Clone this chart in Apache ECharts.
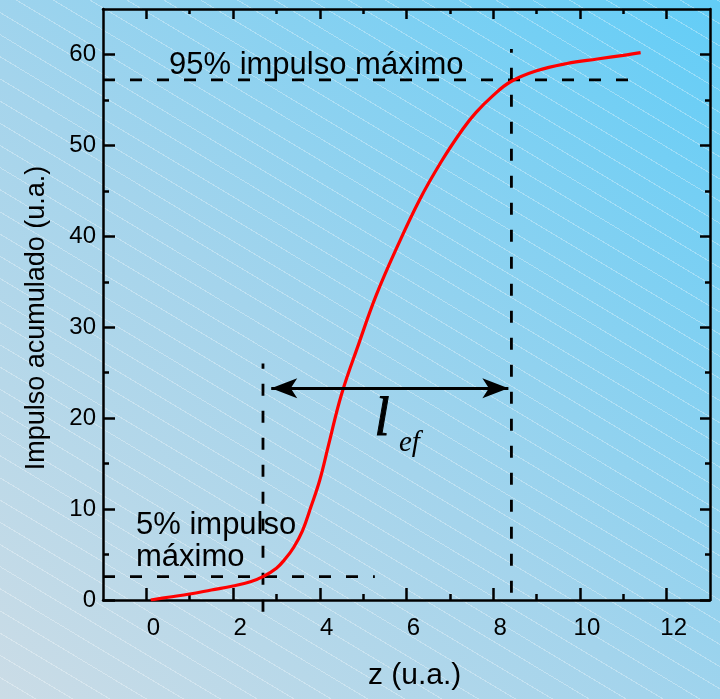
<!DOCTYPE html>
<html>
<head>
<meta charset="utf-8">
<script src="https://cdn.jsdelivr.net/npm/echarts@6/dist/echarts.min.js"></script>
<style>
  html, body { margin: 0; padding: 0; }
  #main {
    width: 720px; height: 699px;
    background:
      repeating-linear-gradient(31deg, rgba(255,255,255,0) 0px, rgba(255,255,255,0) 18px, rgba(255,255,255,0.3) 18px, rgba(255,255,255,0.3) 19px),
      linear-gradient(to top right, #cbdce6 0%, #a4d4ec 45%, #62cdf7 100%);
  }
</style>
</head>
<body>
<div id="main"></div>
<script>
// curva de impulso acumulado
const zCurve = [0.1, 0.5, 1.0, 1.5, 2.0, 2.4, 2.7, 3.0, 3.2, 3.4, 3.6, 3.8, 4.0, 4.2, 4.5, 4.9, 5.3, 5.8, 6.3, 6.8, 7.3, 7.6, 8.0, 8.4, 9.0, 9.7, 10.4, 11.0, 11.4];
const impulso = [0, 0.3, 0.66, 1.1, 1.54, 2.0, 2.6, 3.5, 4.5, 5.8, 7.6, 10.3, 13.2, 17.0, 22.6, 28.2, 33.5, 39.0, 44.0, 48.2, 51.8, 53.6, 55.5, 57.0, 58.2, 59.0, 59.5, 59.9, 60.2];

// lineas de referencia (95% y 5%)
const nivel95 = 57.2, z95 = 8.42;
const nivel5 = 2.56, z5 = 2.69;
const h95Extent = [-1, 11.2];
const v95Extent = [0.8, 60.6];
const h5Extent = [-1, 5.27];
const v5Extent = [-1.3, 26.0];

// flecha l_ef
const flechaZ = [2.88, 8.35];
const flechaV = 23.3;

// ticks
const xMajor = [0, 2, 4, 6, 8, 10, 12];
const xMinor = [1, 3, 5, 7, 9, 11];
const yMajor = [0, 10, 20, 30, 40, 50, 60];
const yMinor = [5, 15, 25, 35, 45, 55];

const chart = echarts.init(document.getElementById('main'), null, { renderer: 'canvas' });

const black = '#000';
const font = '"Liberation Sans", Arial, sans-serif';
const serif = '"Liberation Serif", "Times New Roman", serif';

const hiddenLine = { show: false, onZero: false };
const axisLine = { show: true, onZero: false, lineStyle: { color: black, width: 2.5 } };

function xAx(pos, ticks, len, opt) {
  return Object.assign({
    type: 'value', min: -1, max: 13, position: pos,
    axisLine: hiddenLine,
    axisTick: { show: true, inside: true, length: len, customValues: ticks, lineStyle: { color: black, width: 2.5 } },
    axisLabel: { show: false },
    splitLine: { show: false }
  }, opt || {});
}
function yAx(pos, ticks, len, opt) {
  return Object.assign({
    type: 'value', min: 0, max: 65, position: pos,
    axisLine: hiddenLine,
    axisTick: { show: true, inside: true, length: len, customValues: ticks, lineStyle: { color: black, width: 2.5 } },
    axisLabel: { show: false },
    splitLine: { show: false }
  }, opt || {});
}

const seg = (zs, vs) => zs.map((z, i) => [z, vs[i]]);
const dashed = { color: black, width: 2.8, type: [12, 15] };

const option = {
  backgroundColor: 'transparent',
  animation: false,
  grid: { left: 103, right: 10, top: 9, bottom: 99 },
  xAxis: [
    xAx('bottom', xMajor, 12, {
      axisLine: axisLine,
      axisLabel: { show: true, customValues: xMajor, margin: 16, color: black, fontSize: 24, fontFamily: font, padding: [0, 0, 0, 14] }
    }),
    xAx('bottom', xMinor, 6),
    xAx('top', xMajor, 10, { axisLine: axisLine }),
    xAx('top', xMinor, 5)
  ],
  yAxis: [
    yAx('left', yMajor, 12, {
      axisLine: axisLine,
      axisLabel: { show: true, customValues: yMajor, margin: 7, color: black, fontSize: 24, fontFamily: font }
    }),
    yAx('left', yMinor, 6),
    yAx('right', yMajor, 10, { axisLine: axisLine }),
    yAx('right', yMinor, 5)
  ],
  series: [
    {
      name: '95% horizontal', type: 'line', clip: false, symbol: 'none',
      data: seg(h95Extent, [nivel95, nivel95]), lineStyle: dashed
    },
    {
      name: '95% vertical', type: 'line', clip: false, symbol: 'none',
      data: seg([z95, z95], v95Extent), lineStyle: dashed
    },
    {
      name: '5% horizontal', type: 'line', clip: false, symbol: 'none',
      data: seg(h5Extent, [nivel5, nivel5]), lineStyle: dashed
    },
    {
      name: '5% vertical', type: 'line', clip: false, symbol: 'none',
      data: seg([z5, z5], v5Extent), lineStyle: dashed
    },
    {
      name: 'Impulso acumulado', type: 'line', smooth: 0.4, symbol: 'none',
      data: seg(zCurve, impulso),
      lineStyle: { color: '#ff0000', width: 3.2 },
      markLine: {
        silent: true, animation: false,
        symbol: ['arrow', 'arrow'], symbolSize: [15, 26],
        label: { show: false },
        lineStyle: { color: black, width: 3, type: 'solid' },
        data: [[{ coord: [flechaZ[0], flechaV] }, { coord: [flechaZ[1], flechaV] }]]
      }
    }
  ],
  graphic: [
    { type: 'text', left: 169, top: 50, z: 10,
      style: { text: '95% impulso máximo', font: '31px ' + font, fill: black } },
    { type: 'text', left: 136, top: 509, z: 10,
      style: { text: '5% impulso\nmáximo', font: '31px ' + font, lineHeight: 32, fill: black } },
    { type: 'text', left: 374, top: 393, z: 10,
      style: { text: 'l', font: 'italic 54px ' + serif, fill: black, stroke: black, lineWidth: 1 } },
    { type: 'text', left: 399, top: 429, z: 10,
      style: { text: 'ef', font: 'italic 29px ' + serif, fill: black } },
    { type: 'text', left: 368, top: 661, z: 10,
      style: { text: 'z (u.a.)', font: '30px ' + font, fill: black } },
    { type: 'text', x: 37, y: 318, rotation: Math.PI / 2, z: 10,
      style: { text: 'Impulso acumulado (u.a.)', font: '27px ' + font, fill: black, align: 'center', verticalAlign: 'middle' } }
  ]
};

chart.setOption(option);
</script>
</body>
</html>
